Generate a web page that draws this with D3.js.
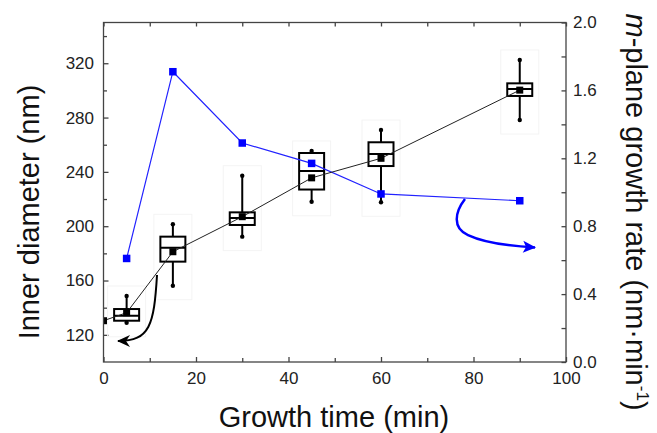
<!DOCTYPE html>
<html>
<head>
<meta charset="utf-8">
<script src="https://cdn.jsdelivr.net/npm/d3@7"></script>
<style>
  body { margin: 0; background: #fff; }
  svg { display: block; font-family: "Liberation Sans", Arial, sans-serif; }
  .axis text { font-size: 17px; fill: #222; }
  .axis line { stroke: #444; stroke-width: 1.3; }
  .axis path { display: none; }
  .title { font-size: 29px; fill: #111; }
</style>
</head>
<body>
<div id="chart"></div>
<script>
// growth rate (right axis, blue)
var rateTimes = [5, 15, 30, 45, 60, 90];
var growthRate = [0.61, 1.71, 1.29, 1.17, 0.99, 0.95];

// inner diameter means (left axis, black line)
var meanTimes = [0, 5, 15, 30, 45, 60, 90];
var meanDiameter = [130.4, 136.3, 181.2, 207.0, 235.6, 250.0, 300.2];

// inner diameter box plots
var boxTimes = [5, 15, 30, 45, 60, 90];
var whiskerLow = [128.9, 156.2, 192.3, 218.0, 217.6, 278.2];
var q1 = [130.4, 173.9, 200.9, 227.0, 244.3, 295.9];
var median = [134.0, 184.2, 206.0, 240.7, 253.2, 301.0];
var q3 = [139.0, 192.3, 210.2, 253.9, 261.8, 305.2];
var whiskerHigh = [148.6, 201.4, 237.2, 255.4, 270.8, 322.4];

// ticks
var xTicks = [0, 20, 40, 60, 80, 100];
var xMinor = [10, 30, 50, 70, 90];
var leftTicks = [120, 160, 200, 240, 280, 320];
var leftMinor = [140, 180, 220, 260, 300, 340];
var rightTicks = [0, 0.4, 0.8, 1.2, 1.6, 2.0];
var rightMinor = [0.2, 0.6, 1.0, 1.4, 1.8];

// annotation arrows, in data units (time, value) as bezier points
var blackArrow = [[11.57, 164.1], [10.92, 127.3], [10.05, 115.5], [3.14, 115.5]];
var blueArrow = [[78.16, 0.960], [76.00, 0.884], [75.35, 0.789], [78.81, 0.748],
                 [82.49, 0.701], [87.89, 0.683], [93.30, 0.675]];

var W = 657, H = 433;
var margin = { left: 103.5, right: 91, top: 22.5, bottom: 71 };
var w = W - margin.left - margin.right;
var h = H - margin.top - margin.bottom;

var x = d3.scaleLinear().domain([0, 100]).range([0, w]);
var y = d3.scaleLinear().domain([100, 350]).range([h, 0]);
var yr = d3.scaleLinear().domain([0, 2]).range([h, 0]);

var svg = d3.select('#chart').append('svg')
  .attr('width', W).attr('height', H);

var defs = svg.append('defs');
defs.append('clipPath').attr('id', 'plotclip')
  .append('rect').attr('width', w).attr('height', h);

defs.append('marker')
  .attr('id', 'headBlack').attr('markerUnits', 'userSpaceOnUse')
  .attr('viewBox', '-14 -8 16 16').attr('markerWidth', 16).attr('markerHeight', 16)
  .attr('refX', 0).attr('refY', 0).attr('orient', 'auto')
  .append('path').attr('d', 'M1,0 L-12,-6 L-8,0 L-12,6 Z').attr('fill', '#000');
defs.append('marker')
  .attr('id', 'headBlue').attr('markerUnits', 'userSpaceOnUse')
  .attr('viewBox', '-14 -8 16 16').attr('markerWidth', 16).attr('markerHeight', 16)
  .attr('refX', 0).attr('refY', 0).attr('orient', 'auto')
  .append('path').attr('d', 'M1,0 L-12,-6 L-9,0 L-12,6 Z').attr('fill', '#0000ff');

var g = svg.append('g')
  .attr('transform', 'translate(' + margin.left + ',' + margin.top + ')');

// axes, ticks pointing inwards
g.append('g').attr('class', 'axis')
  .attr('transform', 'translate(0,' + h + ')')
  .call(d3.axisBottom(x).tickValues(xTicks).tickSize(-5).tickPadding(10).tickSizeOuter(0));
g.append('g').attr('class', 'axis')
  .attr('transform', 'translate(0,' + h + ')')
  .call(d3.axisBottom(x).tickValues(xMinor).tickSize(-4).tickFormat('').tickSizeOuter(0));
g.append('g').attr('class', 'axis')
  .call(d3.axisTop(x).tickValues(xTicks.concat(xMinor)).tickSize(-4).tickFormat('').tickSizeOuter(0));

g.append('g').attr('class', 'axis')
  .call(d3.axisLeft(y).tickValues(leftTicks).tickSize(-5).tickPadding(9.5).tickSizeOuter(0));
g.append('g').attr('class', 'axis')
  .call(d3.axisLeft(y).tickValues(leftMinor).tickSize(-3.5).tickFormat('').tickSizeOuter(0));

g.append('g').attr('class', 'axis')
  .attr('transform', 'translate(' + w + ',0)')
  .call(d3.axisRight(yr).tickValues(rightTicks).tickSize(-4.5).tickPadding(7)
    .tickFormat(d3.format('.1f')).tickSizeOuter(0));
g.append('g').attr('class', 'axis')
  .attr('transform', 'translate(' + w + ',0)')
  .call(d3.axisRight(yr).tickValues(rightMinor).tickSize(-4.5).tickFormat('').tickSizeOuter(0));

var plot = g.append('g').attr('clip-path', 'url(#plotclip)');

// faint frames round each box
plot.selectAll('rect.ghost')
  .data(boxTimes)
  .enter().append('rect')
  .attr('class', 'ghost')
  .attr('x', function(d) { return x(d) - 19; })
  .attr('y', function(d, i) { return y(whiskerHigh[i]) - 10; })
  .attr('width', 38)
  .attr('height', function(d, i) { return y(whiskerLow[i]) - y(whiskerHigh[i]) + 24; })
  .attr('fill', 'none')
  .attr('stroke', '#f4f4f4')
  .attr('stroke-width', 1);

// box plots
var boxes = plot.selectAll('g.box')
  .data(boxTimes)
  .enter().append('g')
  .attr('class', 'box');
boxes.append('line')
  .attr('x1', function(d) { return x(d); })
  .attr('x2', function(d) { return x(d); })
  .attr('y1', function(d, i) { return y(whiskerLow[i]); })
  .attr('y2', function(d, i) { return y(whiskerHigh[i]); })
  .attr('stroke', '#000').attr('stroke-width', 2);
boxes.append('rect')
  .attr('x', function(d) { return x(d) - 12.5; })
  .attr('y', function(d, i) { return y(q3[i]); })
  .attr('width', 25)
  .attr('height', function(d, i) { return y(q1[i]) - y(q3[i]); })
  .attr('fill', '#fff').attr('stroke', '#000').attr('stroke-width', 2);
boxes.append('line')
  .attr('x1', function(d) { return x(d) - 12.5; })
  .attr('x2', function(d) { return x(d) + 12.5; })
  .attr('y1', function(d, i) { return y(median[i]); })
  .attr('y2', function(d, i) { return y(median[i]); })
  .attr('stroke', '#000').attr('stroke-width', 2);
boxes.append('circle')
  .attr('cx', function(d) { return x(d); })
  .attr('cy', function(d, i) { return y(whiskerHigh[i]); })
  .attr('r', 2.2).attr('fill', '#000');
boxes.append('circle')
  .attr('cx', function(d) { return x(d); })
  .attr('cy', function(d, i) { return y(whiskerLow[i]); })
  .attr('r', 2.2).attr('fill', '#000');

// blue growth rate line (drawn over the boxes)
var rateData = rateTimes.map(function(t, i) { return { t: t, v: growthRate[i] }; });
plot.append('path')
  .datum(rateData)
  .attr('fill', 'none')
  .attr('stroke', '#2222ff')
  .attr('stroke-width', 1.2)
  .attr('d', d3.line().x(function(d) { return x(d.t); }).y(function(d) { return yr(d.v); }));

// black mean line
var meanData = meanTimes.map(function(t, i) { return { t: t, v: meanDiameter[i] }; });
plot.append('path')
  .datum(meanData)
  .attr('fill', 'none')
  .attr('stroke', '#222')
  .attr('stroke-width', 1)
  .attr('d', d3.line().x(function(d) { return x(d.t); }).y(function(d) { return y(d.v); }));
plot.selectAll('rect.mean')
  .data(meanData)
  .enter().append('rect')
  .attr('class', 'mean')
  .attr('x', function(d) { return x(d.t) - 3.5; })
  .attr('y', function(d) { return y(d.v) - 3.5; })
  .attr('width', 7).attr('height', 7)
  .attr('fill', '#000');

// blue markers
plot.selectAll('rect.rate')
  .data(rateData)
  .enter().append('rect')
  .attr('class', 'rate')
  .attr('x', function(d) { return x(d.t) - 3.75; })
  .attr('y', function(d) { return yr(d.v) - 3.75; })
  .attr('width', 7.5).attr('height', 7.5)
  .attr('fill', '#0000ff');

// arrows
var pb = d3.path();
pb.moveTo(x(blackArrow[0][0]), y(blackArrow[0][1]));
pb.bezierCurveTo(x(blackArrow[1][0]), y(blackArrow[1][1]),
  x(blackArrow[2][0]), y(blackArrow[2][1]),
  x(blackArrow[3][0]), y(blackArrow[3][1]));
g.append('path')
  .attr('d', pb.toString())
  .attr('fill', 'none').attr('stroke', '#000').attr('stroke-width', 2)
  .attr('marker-end', 'url(#headBlack)');

var pu = d3.path();
pu.moveTo(x(blueArrow[0][0]), yr(blueArrow[0][1]));
for (var k = 1; k + 2 < blueArrow.length; k += 3) {
  pu.bezierCurveTo(x(blueArrow[k][0]), yr(blueArrow[k][1]),
    x(blueArrow[k + 1][0]), yr(blueArrow[k + 1][1]),
    x(blueArrow[k + 2][0]), yr(blueArrow[k + 2][1]));
}
g.append('path')
  .attr('d', pu.toString())
  .attr('fill', 'none').attr('stroke', '#0000ff').attr('stroke-width', 2.5)
  .attr('marker-end', 'url(#headBlue)');

// frame
g.append('rect')
  .attr('width', w).attr('height', h)
  .attr('fill', 'none').attr('stroke', '#444').attr('stroke-width', 1.3);

// titles
svg.append('text')
  .attr('class', 'title')
  .attr('text-anchor', 'middle')
  .attr('x', 334).attr('y', 427)
  .text('Growth time (min)');

svg.append('text')
  .attr('class', 'title')
  .attr('text-anchor', 'middle')
  .attr('transform', 'translate(39,212) rotate(-90)')
  .text('Inner diameter (nm)');

var rt = svg.append('text')
  .attr('class', 'title')
  .attr('text-anchor', 'middle')
  .attr('transform', 'translate(626,212) rotate(90)');
rt.append('tspan').attr('font-style', 'italic').text('m');
rt.append('tspan').text('-plane growth rate (nm\u00b7min');
rt.append('tspan').attr('font-size', '17px').attr('dy', '-11').text('-1');
rt.append('tspan').attr('dy', '11').text(')');
</script>
</body>
</html>
